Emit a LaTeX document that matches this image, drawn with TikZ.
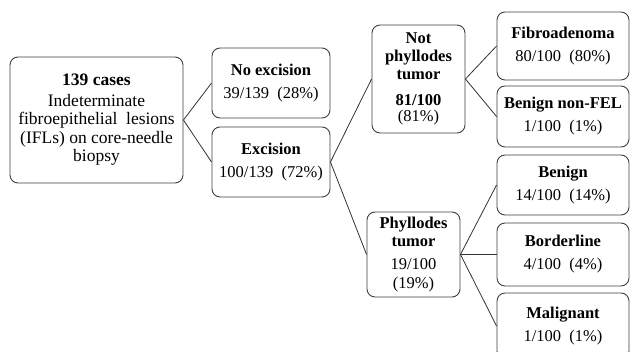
\documentclass[tikz,border=0pt]{standalone}
\usepackage{fontspec}
\setmainfont{Liberation Serif}
\begin{document}
\begin{tikzpicture}[x=1pt,y=-1pt,
  box/.style={draw=black!75, line width=0.9pt, rounded corners=8pt, fill=white,
    align=center, inner sep=2pt, font=\fontsize{16.5pt}{18pt}\selectfont},
  link/.style={draw=black!80, line width=0.8pt}]
\clip (0,0) rectangle (631,351);
\fill[white] (0,0) rectangle (631,351);
\node[box, minimum width=173, minimum height=126, font=\fontsize{17.5pt}{18.5pt}\selectfont] (root) at (96.5,120)
  {\textbf{139 cases}\\[2pt]Indeterminate\\fibroepithelial\ \ lesions\\(IFLs) on core-needle\\biopsy};
\node[box, minimum width=118, minimum height=70] (noex) at (271,83)
  {\textbf{No excision}\\[5pt]39/139\ \ (28\%)};
\node[box, minimum width=118, minimum height=70] (ex) at (271,162)
  {\textbf{Excision}\\[5pt]100/139\ \ (72\%)};
\node[box, minimum width=93, minimum height=108] (notph) at (418.5,79)
  {\textbf{Not}\\\textbf{phyllodes}\\\textbf{tumor}\\[8pt]\textbf{81/100}\\[-2pt](81\%)};
\node[box, minimum width=93, minimum height=85] (ph) at (413.5,254.5)
  {\textbf{Phyllodes}\\\textbf{tumor}\\[5pt]19/100\\[1pt](19\%)};
\node[box, minimum width=132, minimum height=68] (fibro) at (563,46)
  {\textbf{Fibroadenoma}\\[5pt]80/100\ \ (80\%)};
\node[box, minimum width=132, minimum height=61] (bnf) at (563,116.5)
  {\textbf{Benign non-FEL}\\[5pt]1/100\ \ (1\%)};
\node[box, minimum width=132, minimum height=60] (benign) at (563,185)
  {\textbf{Benign}\\[5pt]14/100\ \ (14\%)};
\node[box, minimum width=132, minimum height=63] (border) at (563,254.5)
  {\textbf{Borderline}\\[5pt]4/100\ \ (4\%)};
\node[box, minimum width=132, minimum height=66] (malig) at (563,326)
  {\textbf{Malignant}\\[5pt]1/100\ \ (1\%)};
\draw[link] (root.east) -- (noex.west);
\draw[link] (root.east) -- (ex.west);
\draw[link] (ex.east) -- (notph.west);
\draw[link] (ex.east) -- (ph.west);
\draw[link] (notph.east) -- (fibro.west);
\draw[link] (notph.east) -- (bnf.west);
\draw[link] (ph.east) -- (benign.west);
\draw[link] (ph.east) -- (border.west);
\draw[link] (ph.east) -- (malig.west);
\end{tikzpicture}
\end{document}
